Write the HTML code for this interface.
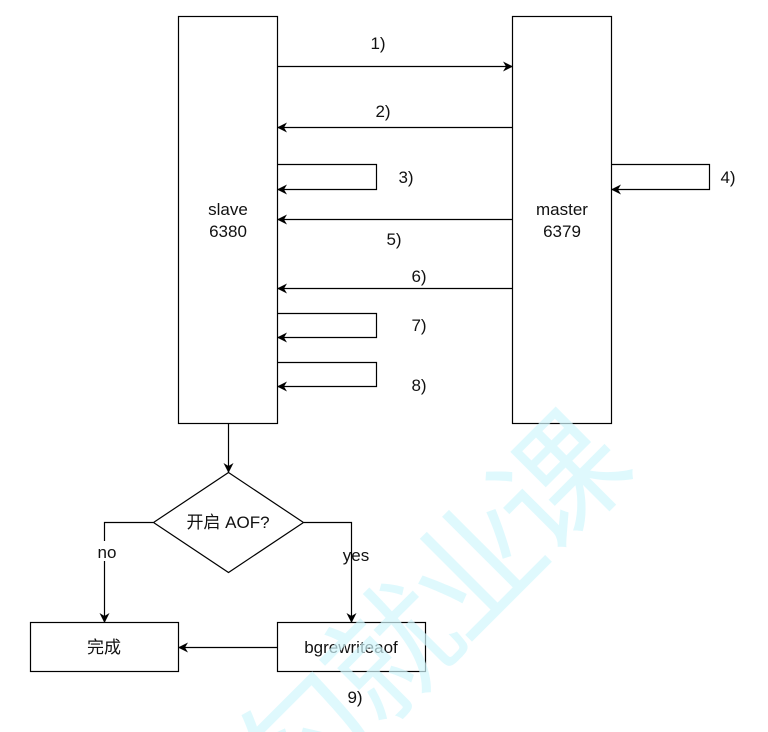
<!DOCTYPE html>
<html><head><style>html,body{margin:0;background:#fff;overflow:hidden;width:768px;height:732px}svg{display:block;overflow:hidden}text{font-family:"Liberation Sans","Noto Sans CJK SC",sans-serif;font-size:17px;fill:#111}.w{font-family:"Noto Sans CJK SC",sans-serif;font-size:128px;font-weight:normal;fill:#d2f7fc;fill-opacity:0.7}</style></head><body>
<svg width="768" height="732" viewBox="0 0 768 732">
<defs><marker id="a" markerWidth="10" markerHeight="10" refX="9" refY="5" orient="auto" markerUnits="userSpaceOnUse"><path d="M0,0 L10,5 L0,10 L3,5 Z" fill="#000"/></marker></defs>
<g stroke="#000" stroke-width="1.2" fill="none">
<rect x="178.5" y="16.5" width="99" height="407" fill="#fff"/>
<rect x="512.5" y="16.5" width="99" height="407" fill="#fff"/>
<line x1="278" y1="66.5" x2="512" y2="66.5" marker-end="url(#a)"/>
<line x1="512" y1="127.5" x2="278" y2="127.5" marker-end="url(#a)"/>
<polyline points="278,164.5 376.5,164.5 376.5,189.5 278,189.5" marker-end="url(#a)"/>
<polyline points="612,164.5 709.5,164.5 709.5,189.5 612,189.5" marker-end="url(#a)"/>
<line x1="512" y1="219.5" x2="278" y2="219.5" marker-end="url(#a)"/>
<line x1="512" y1="288.5" x2="278" y2="288.5" marker-end="url(#a)"/>
<polyline points="278,313.5 376.5,313.5 376.5,337.5 278,337.5" marker-end="url(#a)"/>
<polyline points="278,362.5 376.5,362.5 376.5,386.5 278,386.5" marker-end="url(#a)"/>
<line x1="228.5" y1="424" x2="228.5" y2="472" marker-end="url(#a)"/>
<polygon points="228.5,472.5 303.5,522.5 228.5,572.5 153.5,522.5" fill="#fff"/>
<polyline points="153,522.5 104.5,522.5 104.5,622" marker-end="url(#a)"/>
<polyline points="304,522.5 351.5,522.5 351.5,622" marker-end="url(#a)"/>
<rect x="30.5" y="622.5" width="148" height="49" fill="#fff"/>
<rect x="277.5" y="622.5" width="148" height="49" fill="#fff"/>
<line x1="277" y1="647.5" x2="179" y2="647.5" marker-end="url(#a)"/>
</g>
<g text-anchor="middle">
<text x="228" y="215">slave</text><text x="228" y="237">6380</text>
<text x="562" y="215">master</text><text x="562" y="237">6379</text>
<text x="378" y="49">1)</text><text x="383" y="117">2)</text><text x="406" y="183">3)</text>
<text x="728" y="183">4)</text><text x="394" y="245">5)</text><text x="419" y="282">6)</text>
<text x="419" y="331">7)</text><text x="419" y="391">8)</text>
<text x="228" y="528">开启 AOF?</text>
<rect x="94" y="541" width="28" height="20" fill="#fff"/>
<text x="107" y="558">no</text>
<text x="356" y="561">yes</text>
<text x="104" y="653">完成</text>
<text x="351" y="653">bgrewriteaof</text>
<text x="355" y="703">9)</text>
</g>
<g text-anchor="middle" dominant-baseline="central">
<text class="w" transform="translate(553,475) rotate(-45)">课</text>
<text class="w" transform="translate(470,560) rotate(-45)">业</text>
<text class="w" transform="translate(385,645) rotate(-45)">就</text>
<text class="w" transform="translate(297,733) rotate(-45)">勾</text>
</g>
</svg>
</body></html>
